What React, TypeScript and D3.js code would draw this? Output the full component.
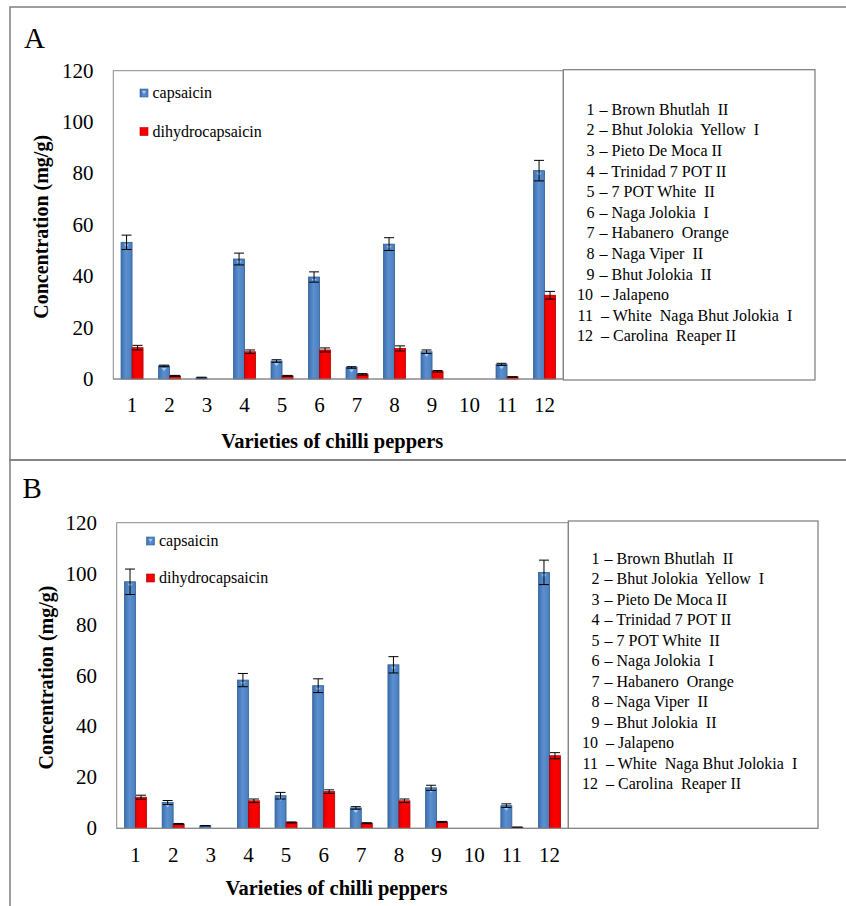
import React from "react";
import * as d3 from "d3";

// varieties (x categories) and their names for the side list
const varieties = ["1", "2", "3", "4", "5", "6", "7", "8", "9", "10", "11", "12"];
const varietyNames = [
  "Brown Bhutlah  II",
  "Bhut Jolokia  Yellow  I",
  "Pieto De Moca II",
  "Trinidad 7 POT II",
  "7 POT White  II",
  "Naga Jolokia  I",
  "Habanero  Orange",
  "Naga Viper  II",
  "Bhut Jolokia  II",
  "Jalapeno",
  "White  Naga Bhut Jolokia  I",
  "Carolina  Reaper II",
];
const yTicks = [0, 20, 40, 60, 80, 100, 120];
const seriesNames = ["capsaicin", "dihydrocapsaicin"];

// panel A
const capsaicinA = [53.2, 5.1, 0.5, 46.7, 7.0, 39.7, 4.5, 52.5, 10.6, 0, 5.7, 81.1];
const capsaicinAErr = [2.8, 0.3, 0.2, 2.3, 0.5, 2.0, 0.3, 2.5, 0.7, 0, 0.4, 4.0];
const dihydroA = [12.2, 1.2, 0, 10.6, 1.2, 11.3, 1.8, 11.9, 3.0, 0, 0.8, 32.6];
const dihydroAErr = [0.9, 0.2, 0, 0.7, 0.2, 0.8, 0.3, 1.0, 0.3, 0, 0.1, 1.5];

// panel B
const capsaicinB = [96.8, 10.1, 1.0, 58.2, 12.8, 56.0, 8.0, 64.2, 15.9, 0, 8.9, 100.5];
const capsaicinBErr = [5.0, 0.8, 0.1, 2.6, 1.3, 2.7, 0.5, 3.2, 1.0, 0, 0.7, 4.8];
const dihydroB = [12.2, 1.7, 0, 10.8, 2.3, 14.4, 2.0, 10.8, 2.5, 0, 0.4, 28.5];
const dihydroBErr = [0.8, 0.2, 0, 0.7, 0.2, 0.7, 0.2, 0.7, 0.2, 0, 0.1, 1.2];

const FONT = "'Liberation Serif', 'Times New Roman', serif";
const RED = "#ff0000";

type Layout = {
  letter: string;
  frameY: number;
  frameH: number;
  letterX: number;
  letterY: number;
  left: number;
  top: number;
  right: number;
  bottom: number;
  boxTop: number;
  boxRight: number;
  boxBottom: number;
  yTickX: number;
  xTickY: number;
  xLabelY: number;
  yLabelX: number;
  legX: number;
  legY1: number;
  legY2: number;
  listNumX: number;
  listY: number;
  listStep: number;
};

const layouts: Layout[] = [
  {
    letter: "A", frameY: 7, frameH: 453, letterX: 24, letterY: 47.5,
    left: 113.3, top: 70.7, right: 563.3, bottom: 379,
    boxTop: 69.7, boxRight: 815, boxBottom: 380,
    yTickX: 93.5, xTickY: 412, xLabelY: 448, yLabelX: 48,
    legX: 140, legY1: 93, legY2: 131.5,
    listNumX: 594.5, listY: 109.3, listStep: 20.6,
  },
  {
    letter: "B", frameY: 460, frameH: 450, letterX: 22.5, letterY: 497.5,
    left: 116.7, top: 522.7, right: 568.3, bottom: 828.3,
    boxTop: 521, boxRight: 818, boxBottom: 828.3,
    yTickX: 97, xTickY: 862, xLabelY: 895, yLabelX: 53,
    legX: 146.5, legY1: 541, legY2: 578,
    listNumX: 599.5, listY: 558.3, listStep: 20.5,
  },
];

const panelData = [
  { cap: capsaicinA, capErr: capsaicinAErr, dih: dihydroA, dihErr: dihydroAErr },
  { cap: capsaicinB, capErr: capsaicinBErr, dih: dihydroB, dihErr: dihydroBErr },
];

function Panel({ l, d }: { l: Layout; d: typeof panelData[0] }) {
  const x = d3.scaleBand().domain(varieties).range([l.left, l.right]);
  const y = d3.scaleLinear().domain([0, 120]).range([l.bottom, l.top]);
  const bw = 11;
  const series = [
    { vals: d.cap, errs: d.capErr, fill: "url(#blueGrad)", stroke: "#2f5f98", off: -bw, marker: true },
    { vals: d.dih, errs: d.dihErr, fill: "url(#redGrad)", stroke: "#b00000", off: 0, marker: false },
  ];
  return (
    <g fontFamily={FONT}>
      <rect x={10} y={l.frameY} width={840} height={l.frameH} fill="none" stroke="#7f7f7f" strokeWidth={1.5} />
      <text x={l.letterX} y={l.letterY} fontSize={29}>{l.letter}</text>
      <rect x={l.left} y={l.top} width={l.right - l.left} height={l.bottom - l.top} fill="#fff" stroke="#8a8a8a" strokeWidth={1} />
      {yTicks.map((t) => (
        <text key={t} x={l.yTickX} y={y(t) + 7} textAnchor="end" fontSize={21}>{t}</text>
      ))}
      {varieties.map((v) => (
        <text key={v} x={(x(v) as number) + x.bandwidth() / 2} y={l.xTickY} textAnchor="middle" fontSize={21}>{v}</text>
      ))}
      {series.map((s, si) =>
        varieties.map((v, i) => {
          const cx = (x(v) as number) + x.bandwidth() / 2 + s.off;
          const val = s.vals[i];
          if (val <= 0) return null;
          const e = s.errs[i];
          const mid = cx + bw / 2;
          const top = y(val);
          return (
            <g key={si + "-" + v}>
              <rect x={cx} y={top} width={bw} height={l.bottom - top} fill={s.fill} stroke={s.stroke} strokeWidth={0.8} />
              {s.marker && l.bottom - top > 6 && (
                <path d={`M${mid - 2.5},${top + 2}L${mid + 2.5},${top + 2}L${mid},${top + 5}Z`} fill="#a9cdf2" />
              )}
              {e > 0 && (
                <g stroke="#000" strokeWidth={1}>
                  <line x1={mid} x2={mid} y1={y(val + e)} y2={y(Math.max(0, val - e))} />
                  <line x1={mid - 5} x2={mid + 5} y1={y(val + e)} y2={y(val + e)} />
                  <line x1={mid - 5} x2={mid + 5} y1={y(Math.max(0, val - e))} y2={y(Math.max(0, val - e))} />
                </g>
              )}
            </g>
          );
        })
      )}
      <line x1={l.left} x2={l.right} y1={l.bottom} y2={l.bottom} stroke="#8a8a8a" strokeWidth={1.2} />
      {seriesNames.map((n, i) => {
        const cy = i === 0 ? l.legY1 : l.legY2;
        return (
          <g key={n}>
            <rect x={l.legX} y={cy - 4} width={8} height={8} fill={i === 0 ? "url(#blueGrad)" : "url(#redGrad)"} stroke={i === 0 ? "#2f5f98" : "#b00000"} strokeWidth={0.6} />
            {i === 0 && <path d={`M${l.legX + 2},${cy - 2}L${l.legX + 6},${cy - 2}L${l.legX + 4},${cy + 1}Z`} fill="#a9cdf2" />}
            <text x={l.legX + 12.5} y={cy + 5} fontSize={16}>{n}</text>
          </g>
        );
      })}
      <text
        transform={`translate(${l.yLabelX},${(l.top + l.bottom) / 2 + 2}) rotate(-90)`}
        textAnchor="middle" fontSize={20} fontWeight="bold"
      >Concentration  (mg/g)</text>
      <text x={(l.left + l.right) / 2 - 6} y={l.xLabelY} textAnchor="middle" fontSize={20.5} fontWeight="bold">Varieties of chilli peppers</text>
      <rect x={l.right} y={l.boxTop} width={l.boxRight - l.right} height={l.boxBottom - l.boxTop} fill="#fff" stroke="#7a7a7a" strokeWidth={1.2} />
      {varietyNames.map((n, i) => (
        <g key={n} fontSize={16}>
          <text x={l.listNumX - (i >= 9 ? 1.5 : 0)} y={l.listY + i * l.listStep + 5.5} textAnchor="end">{varieties[i]}</text>
          <text x={l.listNumX + (i >= 9 ? 6.5 : 5)} y={l.listY + i * l.listStep + 5.5} style={{ whiteSpace: "pre" }}>{"– " + n}</text>
        </g>
      ))}
    </g>
  );
}

export default function App() {
  return (
    <svg width={846} height={906} style={{ position: "absolute", left: 0, top: 0, background: "#fff" }}>
      <defs>
        <linearGradient id="blueGrad" x1="0" x2="1" y1="0" y2="0">
          <stop offset="0" stopColor="#3d6fad" />
          <stop offset="0.45" stopColor="#5b8fd0" />
          <stop offset="1" stopColor="#4a7ebb" />
        </linearGradient>
        <linearGradient id="redGrad" x1="0" x2="1" y1="0" y2="0">
          <stop offset="0" stopColor="#e00000" />
          <stop offset="0.45" stopColor={RED} />
          <stop offset="1" stopColor="#f00000" />
        </linearGradient>
      </defs>
      <rect width={846} height={906} fill="#fff" />
      {layouts.map((l, i) => (
        <Panel key={l.letter} l={l} d={panelData[i]} />
      ))}
    </svg>
  );
}
